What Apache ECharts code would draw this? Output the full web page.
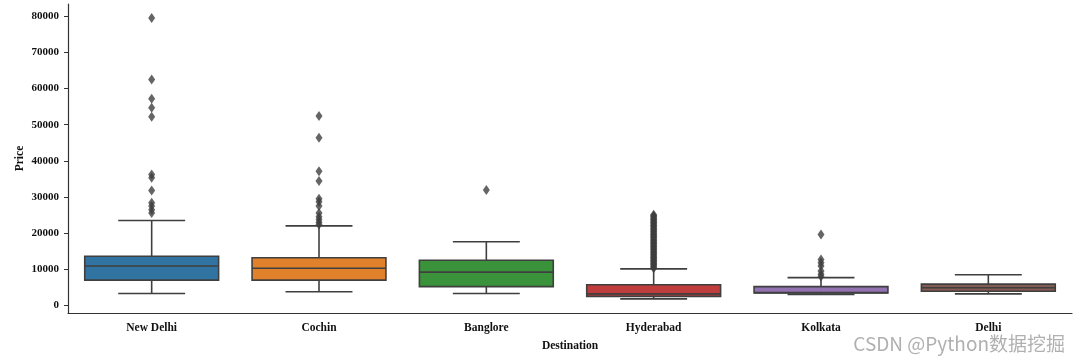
<!DOCTYPE html>
<html><head><meta charset="utf-8">
<script src="https://cdn.jsdelivr.net/npm/echarts@6/dist/echarts.min.js"></script>
<style>html,body{margin:0;padding:0;background:#fff}#c{width:1080px;height:363px}</style>
</head><body><div id="c"></div>
<script>
// ---- data ----
const categories = ['New Delhi', 'Cochin', 'Banglore', 'Hyderabad', 'Kolkata', 'Delhi'];
const whiskerLow  = [3300, 3800, 3300, 1800, 3050, 3200];
const q1          = [7000, 7000, 5200, 2500, 3450, 3900];
const median      = [10900, 10300, 9200, 3200, 3550, 4900];
const q3          = [13600, 13200, 12500, 5700, 5200, 5900];
const whiskerHigh = [23500, 22000, 17600, 10100, 7700, 8500];
const outliersNewDelhi = [79500, 62500, 57200, 54700, 52200, 36200, 35300, 31800, 28400, 27500, 26500, 25600];
const outliersCochin = [52400, 46400, 37100, 34400, 29500, 28700, 27500, 25600, 24500, 23800, 23000, 22400];
const outliersBanglore = [31900];
const outliersHyderabad = [10300, 10650, 10900, 11300, 11550, 11900, 12200, 12450, 12800, 13100, 13350, 13700,
  14050, 14300, 14650, 14900, 15300, 15550, 15900, 16200, 16450, 16800, 17150, 17400, 17750, 18050, 18300,
  18700, 18950, 19300, 19600, 19850, 20250, 20500, 20850, 21150, 21400, 21800, 22050, 22350, 22700, 22950,
  23300, 23600, 23850, 24200, 24500, 24800, 25100];
const outliersKolkata = [19600, 12700, 11800, 10900, 9500, 8600, 8000];
const outliersDelhi = [];
const yTicks = [0, 10000, 20000, 30000, 40000, 50000, 60000, 70000, 80000];
const yMin = -2100, yMax = 83400;

// ---- styles ----
const boxColors = ['#3274a1', '#e1812c', '#3a923a', '#c03d3e', '#9372b2', '#845b53'];
const edge = '#3f3f3f';
const font = 'Liberation Serif';

const outlierLists = [outliersNewDelhi, outliersCochin, outliersBanglore, outliersHyderabad, outliersKolkata, outliersDelhi];
const boxData = categories.map((c, i) => [i, whiskerLow[i], q1[i], median[i], q3[i], whiskerHigh[i]]);
const outlierData = [];
outlierLists.forEach((arr, i) => arr.forEach(v => outlierData.push([i, v])));

function renderBox(params, api) {
  const cat = api.value(0);
  const band = api.size([1, 0])[0];
  const bw = band * 0.8, cw = band * 0.4;
  const pLow = api.coord([cat, api.value(1)]);
  const pQ1 = api.coord([cat, api.value(2)]);
  const pMed = api.coord([cat, api.value(3)]);
  const pQ3 = api.coord([cat, api.value(4)]);
  const pHigh = api.coord([cat, api.value(5)]);
  const x = pQ1[0];
  const ls = { stroke: edge, lineWidth: 1.6 };
  return {
    type: 'group',
    children: [
      { type: 'line', shape: { x1: x, y1: pQ3[1], x2: x, y2: pHigh[1] }, style: ls },
      { type: 'line', shape: { x1: x, y1: pQ1[1], x2: x, y2: pLow[1] }, style: ls },
      { type: 'line', shape: { x1: x - cw / 2, y1: pHigh[1], x2: x + cw / 2, y2: pHigh[1] }, style: ls },
      { type: 'line', shape: { x1: x - cw / 2, y1: pLow[1], x2: x + cw / 2, y2: pLow[1] }, style: ls },
      { type: 'rect', shape: { x: x - bw / 2, y: pQ3[1], width: bw, height: pQ1[1] - pQ3[1] },
        style: { fill: boxColors[cat], stroke: edge, lineWidth: 1.6 } },
      { type: 'line', shape: { x1: x - bw / 2, y1: pMed[1], x2: x + bw / 2, y2: pMed[1] }, style: ls }
    ]
  };
}

const chart = echarts.init(document.getElementById('c'), null, { renderer: 'canvas' });
chart.setOption({
  animation: false,
  backgroundColor: '#fff',
  textStyle: { fontFamily: font },
  grid: { left: 68, right: 8, top: 4, bottom: 50, containLabel: false },
  xAxis: {
    type: 'category',
    data: categories,
    boundaryGap: true,
    name: 'Destination',
    nameLocation: 'middle',
    nameGap: 27,
    nameTextStyle: { fontFamily: font, fontWeight: 'bold', fontSize: 11.5, color: '#111' },
    axisLine: { onZero: false, lineStyle: { color: '#333', width: 1.2 } },
    axisTick: { alignWithLabel: true, length: 4, lineStyle: { color: '#333' } },
    axisLabel: { fontFamily: font, fontWeight: 'bold', fontSize: 11.5, color: '#111', margin: 9 },
    splitLine: { show: false }
  },
  yAxis: {
    type: 'value',
    min: yMin,
    max: yMax,
    name: 'Price',
    nameLocation: 'middle',
    nameGap: 42,
    nameMoveOverlap: false,
    nameRotate: 90,
    nameTextStyle: { fontFamily: font, fontWeight: 'bold', fontSize: 11.5, color: '#111' },
    axisLine: { show: true, onZero: false, lineStyle: { color: '#333', width: 1.2 } },
    axisTick: { show: true, length: 4, customValues: yTicks, lineStyle: { color: '#333' } },
    axisLabel: { fontFamily: font, fontWeight: 'bold', fontSize: 11, color: '#111', margin: 9,
      customValues: yTicks, formatter: v => String(v) },
    splitLine: { show: false }
  },
  series: [
    {
      type: 'custom',
      renderItem: renderBox,
      data: boxData,
      encode: { x: 0, y: [1, 2, 3, 4, 5] },
      z: 2
    },
    {
      type: 'scatter',
      data: outlierData,
      symbol: 'diamond',
      symbolSize: [7, 10],
      itemStyle: { color: edge },
      z: 3
    }
  ],
  graphic: [{
    type: 'text',
    right: 15,
    bottom: 10,
    style: { text: 'CSDN @Python数据挖掘', fontFamily: 'Noto Sans CJK SC', fontSize: 19, fill: '#b0b0b0' }
  }]
});
</script></body></html>
